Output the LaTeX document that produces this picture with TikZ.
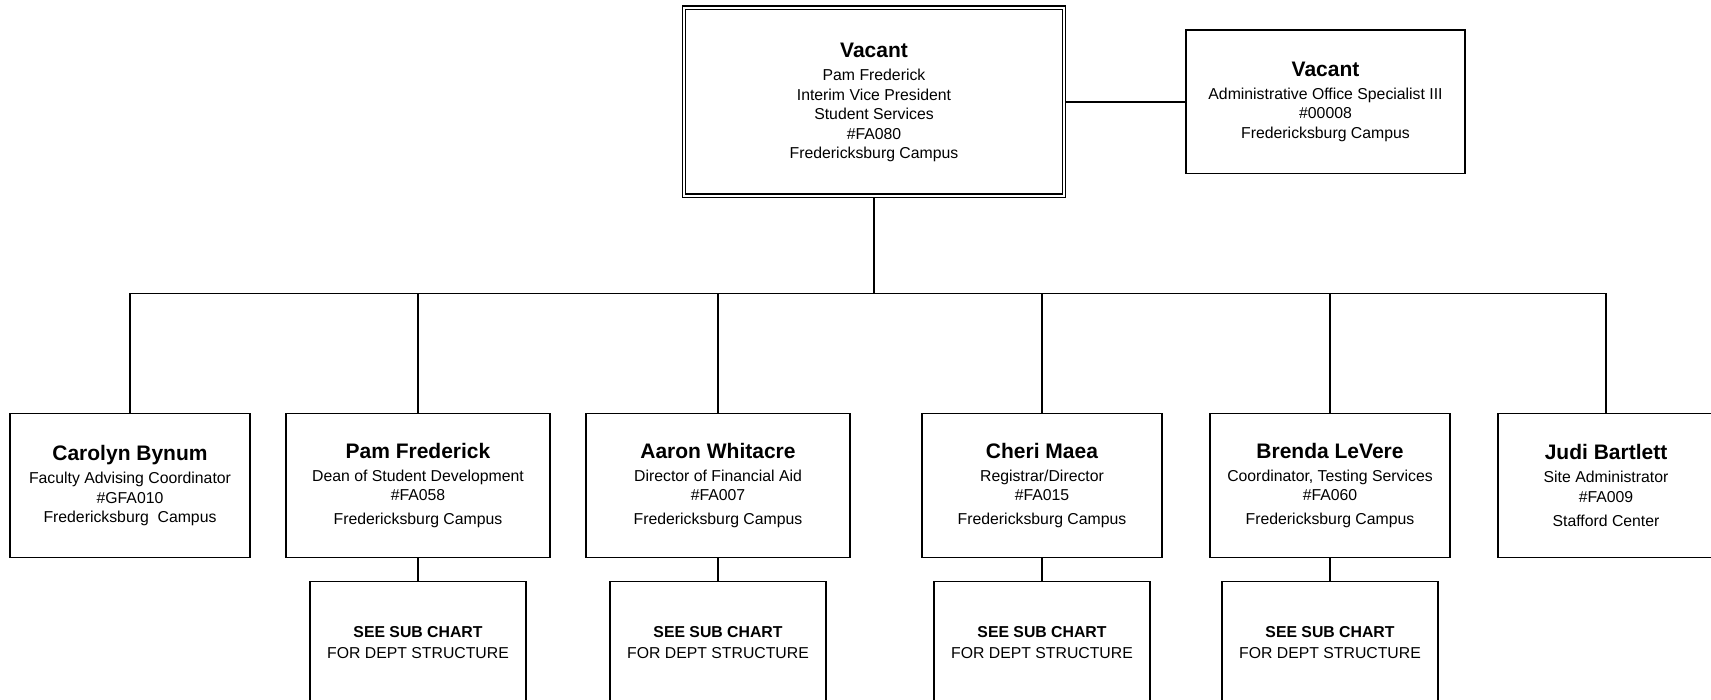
\documentclass[tikz,border=0pt]{standalone}
\usepackage{fontspec}
\setmainfont{Liberation Sans}
\usetikzlibrary{backgrounds}
\newcommand\regfont{\fontsize{15.8}{19.5}\selectfont}
\newcommand\nmline[1]{{\fontsize{21}{24}\selectfont\bfseries #1}\\[3.5pt]}
\begin{document}
\begin{tikzpicture}[x=1pt,y=-1pt,
  box/.style={draw, line width=1.5pt, align=center, inner sep=0pt, font=\regfont, minimum height=144pt},
  wide/.style={box, minimum width=264pt},
  narrow/.style={box, minimum width=240pt},
  subbox/.style={box, minimum width=216pt, minimum height=122pt},
  conn/.style={draw, line width=1.5pt}]
\useasboundingbox (0,0) rectangle (1711,699);
\clip (0,0) rectangle (1711,699);

\node[box, double, line width=1.1pt, double distance=2.6pt, minimum width=380pt, minimum height=188pt, text depth=1.5pt] (vp) at (874,101.8)
  {\nmline{Vacant}Pam Frederick\\Interim Vice President\\Student Services\\\#FA080\\Fredericksburg Campus};
\node[box, minimum width=279pt, minimum height=143.3pt] (aos) at (1325.5,101.8)
  {\nmline{Vacant}Administrative Office Specialist III\\\#00008\\Fredericksburg Campus};

\node[narrow] (carolyn) at (130,485.7)
  {\nmline{Carolyn Bynum}Faculty Advising Coordinator\\\#GFA010\\Fredericksburg\ \ Campus};
\node[wide] (pam) at (418,485.7)
  {\nmline{Pam Frederick}Dean of Student Development\\\#FA058\\[4.5pt]Fredericksburg Campus};
\node[wide] (aaron) at (718,485.7)
  {\nmline{Aaron Whitacre}Director of Financial Aid\\\#FA007\\[4.5pt]Fredericksburg Campus};
\node[narrow] (cheri) at (1042,485.7)
  {\nmline{Cheri Maea}Registrar/Director\\\#FA015\\[4.5pt]Fredericksburg Campus};
\node[narrow] (brenda) at (1330,485.7)
  {\nmline{Brenda LeVere}Coordinator, Testing Services\\\#FA060\\[4.5pt]Fredericksburg Campus};
\node[box, minimum width=216pt] (judi) at (1606,485.7)
  {\nmline{Judi Bartlett}Site Administrator\\\#FA009\\[4.5pt]Stafford Center};

\node[subbox] (pamsub) at (418,642.7) {\textbf{SEE SUB CHART}\\[1pt]FOR DEPT STRUCTURE};
\node[subbox] (aaronsub) at (718,642.7) {\textbf{SEE SUB CHART}\\[1pt]FOR DEPT STRUCTURE};
\node[subbox] (cherisub) at (1042,642.7) {\textbf{SEE SUB CHART}\\[1pt]FOR DEPT STRUCTURE};
\node[subbox] (brendasub) at (1330,642.7) {\textbf{SEE SUB CHART}\\[1pt]FOR DEPT STRUCTURE};

\coordinate (bus) at (874,293.3);
\begin{scope}[on background layer]
  \draw[conn] (vp.east) -- (aos.west);
  \draw[conn] (vp.south) -- (bus);
  \draw[conn] (carolyn.north) |- (bus);
  \draw[conn] (judi.north) |- (bus);
  \draw[conn] (pam.north) -- (pam.north |- bus);
  \draw[conn] (aaron.north) -- (aaron.north |- bus);
  \draw[conn] (cheri.north) -- (cheri.north |- bus);
  \draw[conn] (brenda.north) -- (brenda.north |- bus);
  \draw[conn] (pam.south) -- (pamsub.north);
  \draw[conn] (aaron.south) -- (aaronsub.north);
  \draw[conn] (cheri.south) -- (cherisub.north);
  \draw[conn] (brenda.south) -- (brendasub.north);
\end{scope}
\end{tikzpicture}
\end{document}
